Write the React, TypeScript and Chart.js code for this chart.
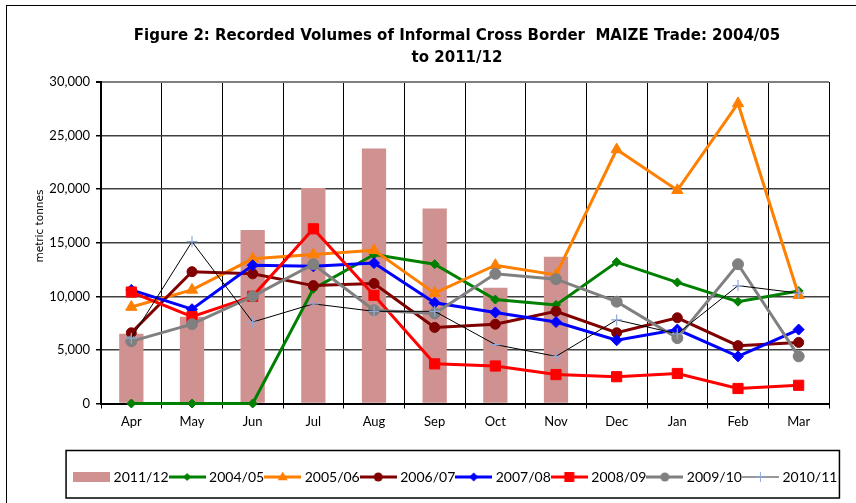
import React, { useEffect, useRef } from 'react';
import { Chart, registerables } from 'chart.js';

Chart.register(...registerables);

const months = ['Apr', 'May', 'Jun', 'Jul', 'Aug', 'Sep', 'Oct', 'Nov', 'Dec', 'Jan', 'Feb', 'Mar'];
const s2011_12 = [6500, 8100, 16200, 20100, 23800, 18200, 10800, 13700, null, null, null, null];
const s2004_05 = [0, 0, 0, 10700, 13900, 13000, 9700, 9200, 13200, 11300, 9500, 10500];
const s2005_06 = [9000, 10600, 13500, 13900, 14300, 10300, 12900, 12000, 23700, 19900, 28000, 10100];
const s2006_07 = [6600, 12300, 12100, 11000, 11200, 7100, 7400, 8600, 6600, 8000, 5400, 5700];
const s2007_08 = [10600, 8800, 12900, 12800, 13100, 9400, 8500, 7600, 5900, 6900, 4400, 6900];
const s2008_09 = [10400, 8100, 10000, 16300, 10100, 3700, 3500, 2700, 2500, 2800, 1400, 1700];
const s2009_10 = [5800, 7400, 10000, 13000, 8700, 8400, 12100, 11600, 9500, 6100, 13000, 4400];
const s2010_11 = [6100, 15100, 7600, 9300, 8600, 8600, 5500, 4400, 7800, 6500, 11000, 10300];

const yMin = 0;
const yMax = 30000;
const yStep = 5000;

const titleLines = [
  'Figure 2: Recorded Volumes of Informal Cross Border  MAIZE Trade: 2004/05',
  'to 2011/12',
];
const yTitle = '          metric tonnes';

const FONT = 'Lato, "DejaVu Sans", sans-serif';
const TITLE_FONT = '"DejaVu Sans", Lato, sans-serif';

type Kind = 'bar' | 'circle' | 'rectRot' | 'rect' | 'triangle' | 'cross';

function makeIcon(kind: Kind, color: string, lineColor: string, lineWidth: number, r: number) {
  const c = document.createElement('canvas');
  c.width = 37;
  c.height = 14;
  const g = c.getContext('2d')!;
  if (kind === 'bar') {
    g.fillStyle = color;
    g.fillRect(0, 2, 37, 10);
    return c;
  }
  g.strokeStyle = lineColor;
  g.lineWidth = lineWidth;
  g.beginPath();
  g.moveTo(0, 7);
  g.lineTo(37, 7);
  g.stroke();
  const x = 18.5;
  const y = 7;
  g.fillStyle = color;
  g.strokeStyle = color;
  g.lineWidth = 1;
  g.beginPath();
  if (kind === 'circle') {
    g.arc(x, y, r, 0, Math.PI * 2);
    g.fill();
  } else if (kind === 'rectRot') {
    g.moveTo(x - r, y);
    g.lineTo(x, y - r);
    g.lineTo(x + r, y);
    g.lineTo(x, y + r);
    g.closePath();
    g.fill();
  } else if (kind === 'rect') {
    g.rect(x - r, y - r, 2 * r, 2 * r);
    g.fill();
  } else if (kind === 'triangle') {
    g.moveTo(x, y - r);
    g.lineTo(x + r * 0.9, y + r * 0.6);
    g.lineTo(x - r * 0.9, y + r * 0.6);
    g.closePath();
    g.fill();
  } else if (kind === 'cross') {
    g.moveTo(x - r, y);
    g.lineTo(x + r, y);
    g.moveTo(x, y - r);
    g.lineTo(x, y + r);
    g.stroke();
  }
  return c;
}

const legendBorder = {
  id: 'legendBorder',
  afterDraw(chart: any) {
    const lg = chart.legend;
    const hb = lg && lg.legendHitBoxes;
    if (!hb || !hb.length) return;
    const first = hb[0];
    const last = hb[hb.length - 1];
    const left = first.left - 10.5;
    const right = last.left + last.width + 2;
    const top = lg.top - 16;
    const bottom = lg.bottom + 4;
    const ctx = chart.ctx;
    ctx.save();
    ctx.strokeStyle = '#000';
    ctx.lineWidth = 1.5;
    ctx.strokeRect(left, top, right - left, bottom - top);
    ctx.restore();
  },
};

export default function App() {
  const ref = useRef<HTMLCanvasElement | null>(null);

  useEffect(() => {
    if (!ref.current) return;
    Chart.defaults.font.family = FONT;
    Chart.defaults.color = '#000';

    const lineSeries = [
      { label: '2004/05', data: s2004_05, color: '#008000', style: 'rectRot', r: 4.5, w: 3, lr: 4 },
      { label: '2005/06', data: s2005_06, color: '#FF7F00', style: 'triangle', r: 6.5, w: 3, lr: 5.5 },
      { label: '2006/07', data: s2006_07, color: '#800000', style: 'circle', r: 5, w: 3, lr: 4.5 },
      { label: '2007/08', data: s2007_08, color: '#0000FF', style: 'rectRot', r: 5.5, w: 3, lr: 4.5 },
      { label: '2008/09', data: s2008_09, color: '#FF0000', style: 'rect', r: 7.2, w: 3, lr: 5 },
      { label: '2009/10', data: s2009_10, color: '#808080', style: 'circle', r: 5.5, w: 3, lr: 4.5 },
    ];

    const datasets: any[] = [
      {
        type: 'bar',
        label: '2011/12',
        data: s2011_12,
        backgroundColor: '#D09191',
        borderWidth: 0,
        barPercentage: 0.4,
        categoryPercentage: 1,
        order: 20,
        yAxisID: 'y',
      },
    ];
    const icons: any[] = [makeIcon('bar', '#D09191', '', 0, 0)];

    lineSeries.forEach((s, i) => {
      datasets.push({
        type: 'line',
        label: s.label,
        data: s.data,
        borderColor: s.color,
        backgroundColor: s.color,
        borderWidth: s.w,
        pointStyle: s.style,
        pointRadius: s.r,
        pointBackgroundColor: s.color,
        pointBorderColor: s.color,
        pointBorderWidth: 1,
        tension: 0,
        clip: false,
        order: 10 - i,
        yAxisID: 'y',
      });
      icons.push(makeIcon(s.style as Kind, s.color, s.color, s.w, s.lr));
    });

    datasets.push({
      type: 'line',
      label: '2010/11',
      data: s2010_11,
      borderColor: '#000000',
      backgroundColor: '#8FA8D8',
      borderWidth: 1,
      pointStyle: 'cross',
      pointRadius: 5.5,
      pointBorderColor: '#8FA8D8',
      pointBackgroundColor: '#8FA8D8',
      pointBorderWidth: 1.2,
      tension: 0,
      clip: false,
      order: 1,
      yAxisID: 'y',
    });
    icons.push(makeIcon('cross', '#8FA8D8', '#333333', 1.2, 5));

    const chart = new Chart(ref.current, {
      type: 'bar',
      data: { labels: months, datasets },
      plugins: [legendBorder],
      options: {
        responsive: false,
        animation: false,
        devicePixelRatio: 1,
        layout: { padding: { left: 20, right: 0, top: 0, bottom: 9 } },
        plugins: {
          tooltip: { enabled: false },
          title: {
            display: true,
            text: titleLines,
            color: '#000',
            font: { family: TITLE_FONT, size: 15, weight: 'bold', lineHeight: '22px' } as any,
            padding: { top: 25, bottom: 13 },
          },
          legend: {
            display: true,
            position: 'bottom',
            labels: {
              usePointStyle: true,
              pointStyleWidth: 30,
              padding: 3.5,
              color: '#000',
              font: { family: FONT, size: 14 },
              generateLabels: (ch: any) =>
                ch.data.datasets.map((ds: any, i: number) => ({
                  text: ds.label,
                  pointStyle: icons[i],
                  fillStyle: 'rgba(0,0,0,0)',
                  strokeStyle: 'rgba(0,0,0,0)',
                  lineWidth: 0,
                  hidden: false,
                  datasetIndex: i,
                  fontColor: '#000',
                })),
            },
          },
        },
        scales: {
          x: {
            offset: true,
            grid: {
              offset: true,
              display: true,
              color: (c: any) => (c.index === months.length ? '#808080' : '#000'),
              lineWidth: (c: any) => (c.index === months.length ? 2 : 1),
              tickColor: '#000',
              tickLength: 5,
              drawTicks: true,
            },
            border: { display: true, color: '#000', width: 2 },
            ticks: {
              color: '#000',
              font: { family: FONT, size: 13 },
              padding: 6,
              maxRotation: 0,
              autoSkip: false,
            },
            afterFit: (s: any) => {
              s.height = 63;
            },
          },
          y: {
            position: 'left',
            min: yMin,
            max: yMax,
            ticks: {
              stepSize: yStep,
              color: '#000',
              font: { family: FONT, size: 13 },
              padding: 6,
            },
            grid: {
              color: (c: any) => (c.tick && c.tick.value === yMax ? '#808080' : '#404040'),
              lineWidth: (c: any) => (c.tick && c.tick.value === yMax ? 2 : 1.5),
              tickColor: '#000',
              tickLength: 5,
            },
            border: { display: true, color: '#000', width: 2 },
            title: {
              display: true,
              text: yTitle,
              color: '#000',
              font: { family: '"DejaVu Sans", sans-serif', size: 10.5 },
              padding: { top: 13.5, bottom: 0 },
            },
            afterFit: (s: any) => {
              s.width = 81;
            },
          },
          yR: {
            type: 'linear',
            position: 'right',
            display: true,
            grid: { display: false, drawTicks: false },
            border: { display: false },
            ticks: { display: false },
            afterFit: (s: any) => {
              s.width = 65;
            },
          },
        },
      } as any,
    });
    return () => chart.destroy();
  }, []);

  return (
    <div
      style={{
        position: 'fixed',
        left: 0,
        top: 0,
        width: 856,
        height: 503,
        overflow: 'hidden',
        background: '#fff',
      }}
    >
      <div
        style={{
          position: 'absolute',
          left: 6,
          top: 5,
          width: 1000,
          height: 1000,
          border: '1.5px solid #000',
        }}
      />
      <canvas
        ref={ref}
        width={894}
        height={503}
        style={{ position: 'absolute', left: 0, top: 0, width: 894, height: 503 }}
      />
    </div>
  );
}
